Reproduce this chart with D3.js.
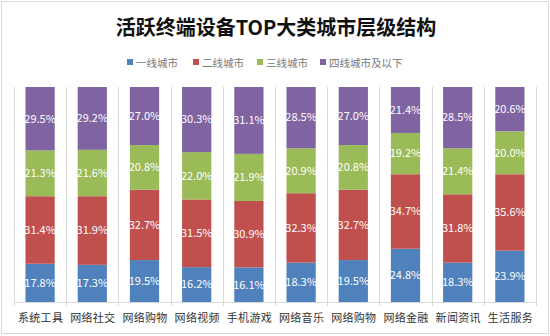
<!DOCTYPE html>
<html>
<head>
<meta charset="utf-8">
<script src="https://cdn.jsdelivr.net/npm/d3@7"></script>
<style>
  body { margin: 0; background: #fff; }
  svg text { font-family: "Noto Sans CJK SC", "DejaVu Sans", sans-serif; }
</style>
</head>
<body>
<div id="chart"></div>
<script>
// categories and series (percent)
const categories = ["系统工具", "网络社交", "网络购物", "网络视频", "手机游戏", "网络音乐", "网络购物", "网络金融", "新闻资讯", "生活服务"];
const seriesNames = ["一线城市", "二线城市", "三线城市", "四线城市及以下"];
const tier1 = [17.8, 17.3, 19.5, 16.2, 16.1, 18.3, 19.5, 24.8, 18.3, 23.9];
const tier2 = [31.4, 31.9, 32.7, 31.5, 30.9, 32.3, 32.7, 34.7, 31.8, 35.6];
const tier3 = [21.3, 21.6, 20.8, 22.0, 21.9, 20.9, 20.8, 19.2, 21.4, 20.0];
const tier4 = [29.5, 29.2, 27.0, 30.3, 31.1, 28.5, 27.0, 21.4, 28.5, 20.6];
const colors = ["#4F81BD", "#C0504D", "#9BBB59", "#8064A2"];

const W = 550, H = 336;
const margin = { top: 87, right: 14, bottom: 34, left: 14 };

const svg = d3.select("#chart").append("svg")
    .attr("width", W)
    .attr("height", H);

// outer border
svg.append("rect")
    .attr("x", 1.5).attr("y", 1.5)
    .attr("width", W - 3).attr("height", H - 4)
    .attr("fill", "#fff")
    .attr("stroke", "#d9d9d9");

// title
svg.append("text")
    .attr("x", W / 2 + 1).attr("y", 35)
    .attr("text-anchor", "middle")
    .style("font-size", "20px")
    .style("font-weight", "bold")
    .attr("fill", "#111")
    .text("活跃终端设备TOP大类城市层级结构");

// build table for stacking
const rows = categories.map((c, i) => ({ idx: i, cat: c, s0: tier1[i], s1: tier2[i], s2: tier3[i], s3: tier4[i] }));
const keys = ["s0", "s1", "s2", "s3"];
const stacked = d3.stack().keys(keys).offset(d3.stackOffsetExpand)(rows);

const x = d3.scaleBand()
    .domain(d3.range(categories.length))
    .range([margin.left, W - margin.right])
    .paddingInner(0.44)
    .paddingOuter(0.22);

const xOuter = d3.scaleBand()
    .domain(d3.range(categories.length))
    .range([margin.left, W - margin.right]);

const y = d3.scaleLinear()
    .domain([0, 1])
    .range([H - margin.bottom, margin.top]);

// category separators
const seps = d3.range(categories.length + 1).map(i => margin.left + i * xOuter.step());
svg.append("g").selectAll("line")
    .data(seps)
    .join("line")
    .attr("x1", d => Math.round(d) + 0.5)
    .attr("x2", d => Math.round(d) + 0.5)
    .attr("y1", y(1))
    .attr("y2", y(0) + 4)
    .attr("stroke", "#d9d9d9");

// bottom axis line
svg.append("line")
    .attr("x1", margin.left).attr("x2", W - margin.right)
    .attr("y1", y(0) + 0.5).attr("y2", y(0) + 0.5)
    .attr("stroke", "#d9d9d9");

// bars
const layer = svg.append("g").selectAll("g")
    .data(stacked)
    .join("g")
    .attr("fill", (d, i) => colors[i]);

layer.selectAll("rect")
    .data(d => d)
    .join("rect")
    .attr("x", d => x(d.data.idx))
    .attr("width", x.bandwidth())
    .attr("y", d => y(d[1]))
    .attr("height", d => y(d[0]) - y(d[1]));

// value labels
const labels = svg.append("g").selectAll("g")
    .data(stacked)
    .join("g");

labels.selectAll("text")
    .data(d => d.map(v => ({ v, key: d.key })))
    .join("text")
    .attr("x", d => x(d.v.data.idx) + x.bandwidth() / 2)
    .attr("y", d => (y(d.v[0]) + y(d.v[1])) / 2)
    .attr("dy", "0.35em")
    .attr("text-anchor", "middle")
    .style("font-size", "11px")
    .attr("fill", "#fff")
    .text(d => d.v.data[d.key].toFixed(1) + "%");

// x labels
svg.append("g").selectAll("text")
    .data(categories)
    .join("text")
    .attr("x", (d, i) => x(i) + x.bandwidth() / 2 + 0.5)
    .attr("y", y(0) + 20)
    .attr("text-anchor", "middle")
    .style("font-size", "11px")
    .style("letter-spacing", "0.3px")
    .attr("fill", "#333")
    .text(d => d);

// legend
const legendX = [127, 193, 257, 320];
const legend = svg.append("g").selectAll("g")
    .data(seriesNames)
    .join("g")
    .attr("transform", (d, i) => "translate(" + legendX[i] + ",63)");

legend.append("rect")
    .attr("x", 0).attr("y", -4)
    .attr("width", 6).attr("height", 6)
    .attr("fill", (d, i) => colors[i]);

legend.append("text")
    .attr("x", 9)
    .attr("y", 0)
    .attr("dy", "0.35em")
    .style("font-size", "10.5px")
    .attr("fill", "#777")
    .text(d => d);
</script>
</body>
</html>
